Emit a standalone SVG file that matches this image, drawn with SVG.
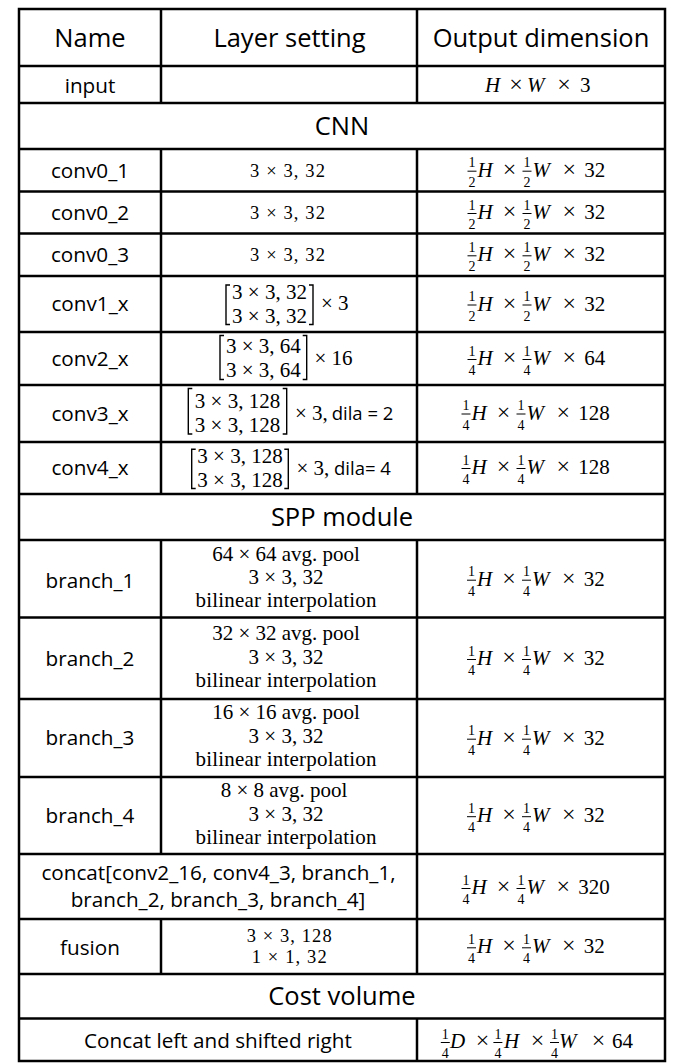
<svg xmlns="http://www.w3.org/2000/svg" width="687" height="1063" viewBox="0 0 687 1063">
<style>
.ln{stroke:#000;stroke-width:2.5;fill:none}
.hd{font-family:"Open Sans","Noto Sans",sans-serif;font-size:25.5px;text-anchor:middle;fill:#000}
.tx{font-family:"Open Sans","Noto Sans",sans-serif;font-size:20.7px;text-anchor:middle;fill:#000}
.sn{font-family:"Open Sans","Noto Sans",sans-serif;font-size:18.5px;fill:#000}
.mt{font-family:"Liberation Serif","Times New Roman",serif;font-size:21px;fill:#000}
.mc{text-anchor:middle}
.mo{font-size:24px}
.sm{font-size:18.5px}
.mi{font-style:italic}
.fr{font-family:"Liberation Serif","Times New Roman",serif;font-size:14px;text-anchor:middle;fill:#000}
.bar{stroke:#000;stroke-width:1}
.br{stroke:#000;stroke-width:1.4;fill:none}
</style>
<defs>
<g id="f2"><text class="fr" x="4.5" y="-9.5">1</text><line class="bar" x1="0" y1="-5.5" x2="9" y2="-5.5"/><text class="fr" x="4.5" y="10">2</text></g>
<g id="f4"><text class="fr" x="4.5" y="-9.5">1</text><line class="bar" x1="0" y1="-5.5" x2="9" y2="-5.5"/><text class="fr" x="4.5" y="10">4</text></g>
<g id="hw2"><use href="#f2"/><text class="mt mi" x="10">H</text><text class="mt mc mo" x="42">×</text><use href="#f2" x="55"/><text class="mt mi" x="65">W</text><text class="mt mc mo" x="101.7">×</text></g>
<g id="hw4"><use href="#f4"/><text class="mt mi" x="10">H</text><text class="mt mc mo" x="42">×</text><use href="#f4" x="55"/><text class="mt mi" x="65">W</text><text class="mt mc mo" x="101.7">×</text></g>
</defs>
<rect x="0" y="0" width="687" height="1063" fill="#fff"/>

<g id="grid">
<rect class="ln" x="19" y="9" width="646" height="1052"/>
<line class="ln" x1="19" y1="66" x2="665" y2="66"/>
<line class="ln" x1="19" y1="103" x2="665" y2="103"/>
<line class="ln" x1="19" y1="149" x2="665" y2="149"/>
<line class="ln" x1="19" y1="191.5" x2="665" y2="191.5"/>
<line class="ln" x1="19" y1="233.5" x2="665" y2="233.5"/>
<line class="ln" x1="19" y1="276" x2="665" y2="276"/>
<line class="ln" x1="19" y1="332" x2="665" y2="332"/>
<line class="ln" x1="19" y1="385" x2="665" y2="385"/>
<line class="ln" x1="19" y1="442" x2="665" y2="442"/>
<line class="ln" x1="19" y1="494" x2="665" y2="494"/>
<line class="ln" x1="19" y1="540" x2="665" y2="540"/>
<line class="ln" x1="19" y1="617.5" x2="665" y2="617.5"/>
<line class="ln" x1="19" y1="699" x2="665" y2="699"/>
<line class="ln" x1="19" y1="777" x2="665" y2="777"/>
<line class="ln" x1="19" y1="854" x2="665" y2="854"/>
<line class="ln" x1="19" y1="919" x2="665" y2="919"/>
<line class="ln" x1="19" y1="974" x2="665" y2="974"/>
<line class="ln" x1="19" y1="1018.5" x2="665" y2="1018.5"/>
<line class="ln" x1="161" y1="9" x2="161" y2="103"/>
<line class="ln" x1="161" y1="149" x2="161" y2="494"/>
<line class="ln" x1="161" y1="540" x2="161" y2="854"/>
<line class="ln" x1="161" y1="919" x2="161" y2="974"/>
<line class="ln" x1="417" y1="9" x2="417" y2="103"/>
<line class="ln" x1="417" y1="149" x2="417" y2="494"/>
<line class="ln" x1="417" y1="540" x2="417" y2="974"/>
<line class="ln" x1="417" y1="1018.5" x2="417" y2="1061"/>
</g>

<g id="header">
<text class="hd" x="90" y="46.7">Name</text>
<text class="hd" x="289.5" y="46.7">Layer setting</text>
<text class="hd" x="541" y="46.7">Output dimension</text>
</g>

<g id="row-input">
<text class="tx" x="90" y="92.5">input</text>
<text class="mt mi" x="485" y="91.7">H</text>
<text class="mt mc mo" x="516" y="91.7">×</text>
<text class="mt mi" x="527" y="91.7">W</text>
<text class="mt mc mo" x="564" y="91.7">×</text>
<text class="mt" x="580" y="91.7">3</text>
</g>

<g id="sec-cnn"><text class="hd" x="342" y="135">CNN</text></g>

<g id="row-conv0_1">
<text class="tx" x="90" y="177.5">conv0_1</text>
<text class="mt sm" x="250" y="176.7" textLength="75" lengthAdjust="spacing">3 × 3, 32</text>
<use href="#hw2" x="467.5" y="176.7"/><text class="mt" x="584.2" y="176.7">32</text>
</g>
<g id="row-conv0_2">
<text class="tx" x="90" y="219.5">conv0_2</text>
<text class="mt sm" x="250" y="219" textLength="75" lengthAdjust="spacing">3 × 3, 32</text>
<use href="#hw2" x="467.5" y="219"/><text class="mt" x="584.2" y="219">32</text>
</g>
<g id="row-conv0_3">
<text class="tx" x="90" y="261.8">conv0_3</text>
<text class="mt sm" x="250" y="261.3" textLength="75" lengthAdjust="spacing">3 × 3, 32</text>
<use href="#hw2" x="467.5" y="261.3"/><text class="mt" x="584.2" y="261.3">32</text>
</g>
<g id="row-conv1_x">
<text class="tx" x="90" y="311">conv1_x</text>
<path class="br" d="M230,285 H226 V324.5 H230 M309,285 H313 V324.5 H309"/>
<text class="mt mc" x="269.5" y="299.3">3 × 3, 32</text>
<text class="mt mc" x="269.5" y="322.7">3 × 3, 32</text>
<text class="mt" x="321" y="310">× 3</text>
<use href="#hw2" x="467.5" y="310.5"/><text class="mt" x="584.2" y="310.5">32</text>
</g>
<g id="row-conv2_x">
<text class="tx" x="90" y="365.5">conv2_x</text>
<path class="br" d="M224,335.5 H220 V379.5 H224 M302.7,335.5 H306.7 V379.5 H302.7"/>
<text class="mt mc" x="263.3" y="353.3">3 × 3, 64</text>
<text class="mt mc" x="263.3" y="376.7">3 × 3, 64</text>
<text class="mt" x="314.5" y="365">× 16</text>
<use href="#hw4" x="467.5" y="365"/><text class="mt" x="584.2" y="365">64</text>
</g>
<g id="row-conv3_x">
<text class="tx" x="90" y="420.5">conv3_x</text>
<path class="br" d="M192.3,388.5 H188.3 V434 H192.3 M282.7,388.5 H286.7 V434 H282.7"/>
<text class="mt mc" x="237.5" y="408.3">3 × 3, 128</text>
<text class="mt mc" x="237.5" y="431.7">3 × 3, 128</text>
<text class="mt" x="295" y="420">× 3,</text>
<text class="sn" x="331.7" y="420">dila = 2</text>
<use href="#hw4" x="461.5" y="419.5"/><text class="mt" x="578.2" y="419.5">128</text>
</g>
<g id="row-conv4_x">
<text class="tx" x="90" y="475">conv4_x</text>
<path class="br" d="M195.7,449.3 H191.7 V488.5 H195.7 M284.3,449.3 H288.3 V488.5 H284.3"/>
<text class="mt mc" x="240" y="463.3">3 × 3, 128</text>
<text class="mt mc" x="240" y="486.7">3 × 3, 128</text>
<text class="mt" x="296.5" y="475">× 3,</text>
<text class="sn" x="334" y="475">dila= 4</text>
<use href="#hw4" x="461.5" y="474"/><text class="mt" x="578.2" y="474">128</text>
</g>

<g id="sec-spp"><text class="hd" x="342" y="526">SPP module</text></g>

<g id="row-branch_1">
<text class="tx" x="90" y="587.5">branch_1</text>
<text class="mt mc" x="286" y="560.7">64 × 64 avg. pool</text>
<text class="mt mc" x="286" y="583.7">3 × 3, 32</text>
<text class="mt mc" x="286" y="607.3" textLength="181" lengthAdjust="spacing">bilinear interpolation</text>
<use href="#hw4" x="467" y="585.7"/><text class="mt" x="583.7" y="585.7">32</text>
</g>
<g id="row-branch_2">
<text class="tx" x="90" y="666">branch_2</text>
<text class="mt mc" x="286" y="639.7">32 × 32 avg. pool</text>
<text class="mt mc" x="286" y="664">3 × 3, 32</text>
<text class="mt mc" x="286" y="687" textLength="181" lengthAdjust="spacing">bilinear interpolation</text>
<use href="#hw4" x="467" y="665"/><text class="mt" x="583.7" y="665">32</text>
</g>
<g id="row-branch_3">
<text class="tx" x="90" y="745">branch_3</text>
<text class="mt mc" x="286" y="719">16 × 16 avg. pool</text>
<text class="mt mc" x="286" y="742.5">3 × 3, 32</text>
<text class="mt mc" x="286" y="766" textLength="181" lengthAdjust="spacing">bilinear interpolation</text>
<use href="#hw4" x="467" y="744.7"/><text class="mt" x="583.7" y="744.7">32</text>
</g>
<g id="row-branch_4">
<text class="tx" x="90" y="823">branch_4</text>
<text class="mt mc" x="284" y="796.7">8 × 8 avg. pool</text>
<text class="mt mc" x="286" y="821">3 × 3, 32</text>
<text class="mt mc" x="286" y="844" textLength="181" lengthAdjust="spacing">bilinear interpolation</text>
<use href="#hw4" x="467" y="822.2"/><text class="mt" x="583.7" y="822.2">32</text>
</g>
<g id="row-concat">
<text class="tx" x="218.5" y="880">concat[conv2_16, conv4_3, branch_1,</text>
<text class="tx" x="218" y="907.3">branch_2, branch_3, branch_4]</text>
<use href="#hw4" x="461.5" y="894"/><text class="mt" x="578.2" y="894">320</text>
</g>
<g id="row-fusion">
<text class="tx" x="90" y="955">fusion</text>
<text class="mt sm" x="246.7" y="941.7" textLength="85" lengthAdjust="spacing">3 × 3, 128</text>
<text class="mt sm" x="251.7" y="963.3" textLength="75" lengthAdjust="spacing">1 × 1, 32</text>
<use href="#hw4" x="467" y="953.3"/><text class="mt" x="583.7" y="953.3">32</text>
</g>

<g id="sec-cost"><text class="hd" x="342" y="1005">Cost volume</text></g>

<g id="row-cost">
<text class="tx" x="218" y="1048">Concat left and shifted right</text>
<use href="#f4" x="440.8" y="1048"/>
<text class="mt mi" x="450" y="1048">D</text>
<text class="mt mc mo" x="482.5" y="1048">×</text>
<use href="#f4" x="493.4" y="1048"/>
<text class="mt mi" x="504" y="1048">H</text>
<text class="mt mc mo" x="537.5" y="1048">×</text>
<use href="#f4" x="550" y="1048"/>
<text class="mt mi" x="559" y="1048">W</text>
<text class="mt mc mo" x="598.5" y="1048">×</text>
<text class="mt" x="612" y="1048">64</text>
</g>
</svg>
